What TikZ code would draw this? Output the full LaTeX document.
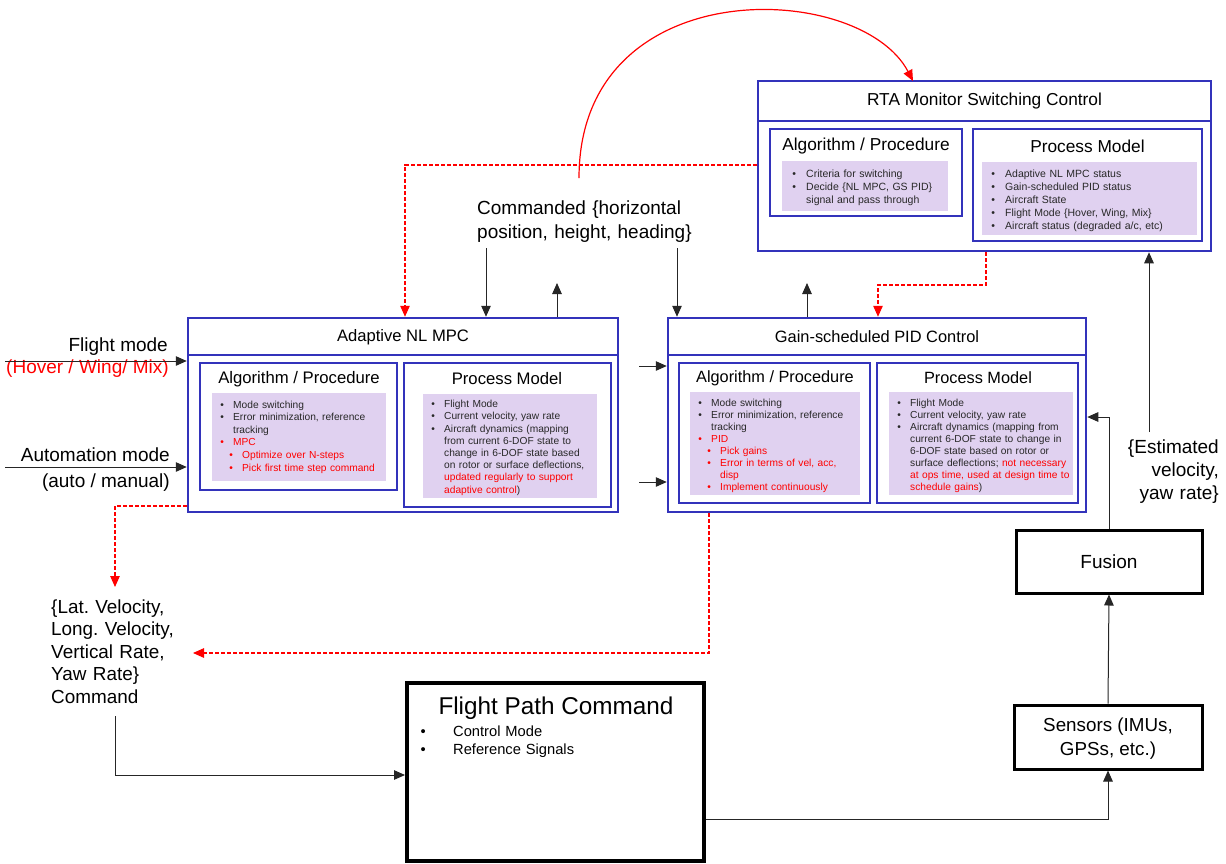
\documentclass[tikz,border=0pt]{standalone}
\usepackage{fontspec}
\setmainfont{Liberation Sans}
\usetikzlibrary{arrows.meta,fit}
\frenchspacing

\definecolor{boxblue}{RGB}{51,51,187}
\definecolor{lavfill}{RGB}{224,209,240}
\definecolor{sigred}{RGB}{255,0,0}
\definecolor{txtdark}{RGB}{40,40,40}

\newcommand{\fs}[2]{\fontsize{#1}{#2}\selectfont}
% bullet lists: continuation lines are indented to the item text
\newlength{\bind}\newlength{\sind}\newlength{\curind}
\newcommand{\nl}{\newline\hspace*{\curind}}
\newcommand{\bu}[2][txtdark]{\par\noindent\setlength{\curind}{\bind}{\color{#1}\makebox[\bind][l]{\strut\textbullet}#2}}
\newcommand{\sbu}[2][txtdark]{\par\noindent\setlength{\curind}{\dimexpr\bind+\sind\relax}{\color{#1}\hspace*{\sind}\makebox[\bind][l]{\strut\textbullet}#2}}

\tikzset{
  bluebox/.style={draw=boxblue, line width=2.5pt, inner sep=0pt},
  lavbox/.style={fill=lavfill, draw=none, inner sep=0pt},
  lavtext/.style={anchor=north west, inner sep=0pt, text width=260pt, text=txtdark},
  heading/.style={inner sep=0pt, text=black},
  blkbox/.style={draw=black, line width=3pt, inner sep=0pt},
  lbl/.style={inner sep=0pt, font=\fs{19}{23}},
  blkarrow/.style={draw=black!85, line width=1pt, -{Triangle[length=11pt,width=9.5pt]}},
  redarrow/.style={draw=sigred, line width=1.2pt, -{Triangle[length=11pt,width=9.5pt]}},
  reddash/.style={redarrow, dash pattern=on 4pt off 2pt}
}

\begin{document}
\begin{tikzpicture}[x=1pt,y=-1pt]
\fill[white] (0,0) rectangle (1226,863);
\useasboundingbox (0,0) rectangle (1226,863);

% ---------- RTA monitor ----------
\node[bluebox, fit={(758,81) (1211,251)}] (rta) {};
\node[bluebox, fit={(758,81) (1211,121)}] (rtaBand) {};
\node[heading, font=\fs{17.3}{20}] (rtaT) at (984.5,101) {RTA Monitor Switching Control};
\node[bluebox, fit={(770,129) (962,216)}] (rtaAlg) {};
\node[lavbox, fit={(782,161) (948,211)}] (rtaAlgL) {};
\node[heading, font=\fs{17.3}{20}] (rtaAlgH) at (866,146) {Algorithm / Procedure};
\node[lavtext, font=\fs{10.5}{13}] (rtaAlgX) at (792.2,164) {\raggedright\setlength{\bind}{13.8pt}%
\bu{Criteria for switching}%
\bu{Decide \{NL MPC, GS PID\}\nl signal and pass through}};
\node[bluebox, fit={(973,129) (1202,241)}] (rtaPM) {};
\node[lavbox, fit={(982,162) (1197,235)}] (rtaPML) {};
\node[heading, font=\fs{17.3}{20}] (rtaPMH) at (1087.5,146) {Process Model};
\node[lavtext, font=\fs{10.5}{13}] (rtaPMX) at (991.2,164) {\raggedright\setlength{\bind}{13.8pt}%
\bu{Adaptive NL MPC status}%
\bu{Gain-scheduled PID status}%
\bu{Aircraft State}%
\bu{Flight Mode \{Hover, Wing, Mix\}}%
\bu{Aircraft status (degraded a/c, etc)}};

% ---------- Adaptive NL MPC ----------
\node[bluebox, fit={(188,318) (618,512)}] (mpc) {};
\node[bluebox, fit={(188,318) (618,355)}] (mpcBand) {};
\node[heading, font=\fs{16.6}{20}] (mpcT) at (403,337) {Adaptive NL MPC};
\node[bluebox, fit={(200,363) (397,490)}] (mpcAlg) {};
\node[lavbox, fit={(212,393) (386,481)}] (mpcAlgL) {};
\node[heading, font=\fs{16.7}{20}] (mpcAlgH) at (299,379) {Algorithm / Procedure};
\node[lavtext, font=\fs{10.2}{12.6}] (mpcAlgX) at (220.2,395.2) {\raggedright\setlength{\bind}{12.8pt}\setlength{\sind}{9pt}%
\bu{Mode switching}%
\bu{Error minimization, reference\nl tracking}%
\bu[sigred]{MPC}%
\sbu[sigred]{Optimize over N-steps}%
\sbu[sigred]{Pick first time step command}};
\node[bluebox, fit={(404,363) (611,507)}] (mpcPM) {};
\node[lavbox, fit={(423,394) (597,498)}] (mpcPML) {};
\node[heading, font=\fs{16.7}{20}] (mpcPMH) at (507,379) {Process Model};
\node[lavtext, font=\fs{10.2}{12.2}] (mpcPMX) at (431.2,395.2) {\raggedright\setlength{\bind}{12.8pt}%
\bu{Flight Mode}%
\bu{Current velocity, yaw rate}%
\bu{Aircraft dynamics (mapping\nl from current 6-DOF state to\nl change in 6-DOF state based\nl on rotor or surface deflections,\nl \textcolor{sigred}{updated regularly to support\nl adaptive control})}};

% ---------- Gain-scheduled PID ----------
\node[bluebox, fit={(668,318) (1086,512)}] (pid) {};
\node[bluebox, fit={(668,318) (1086,355)}] (pidBand) {};
\node[heading, font=\fs{16.4}{20}] (pidT) at (877,336.5) {Gain-scheduled PID Control};
\node[bluebox, fit={(679,363) (870,503)}] (pidAlg) {};
\node[lavbox, fit={(690,392) (860,495)}] (pidAlgL) {};
\node[heading, font=\fs{16.3}{20}] (pidAlgH) at (775,378) {Algorithm / Procedure};
\node[lavtext, font=\fs{10.2}{11.9}] (pidAlgX) at (698.2,394.7) {\raggedright\setlength{\bind}{12.8pt}\setlength{\sind}{9pt}%
\bu{Mode switching}%
\bu{Error minimization, reference\nl tracking}%
\bu[sigred]{PID}%
\sbu[sigred]{Pick gains}%
\sbu[sigred]{Error in terms of vel, acc,\nl disp}%
\sbu[sigred]{Implement continuously}};
\node[bluebox, fit={(877,363) (1078,503)}] (pidPM) {};
\node[lavbox, fit={(889,392) (1073,495)}] (pidPML) {};
\node[heading, font=\fs{16.3}{20}] (pidPMH) at (978,378) {Process Model};
\node[lavtext, font=\fs{10.2}{11.9}] (pidPMX) at (897.2,394.7) {\raggedright\setlength{\bind}{12.8pt}%
\bu{Flight Mode}%
\bu{Current velocity, yaw rate}%
\bu{Aircraft dynamics (mapping from\nl current 6-DOF state to change in\nl 6-DOF state based on rotor or\nl surface deflections; \textcolor{sigred}{not necessary\nl at ops time, used at design time to\nl schedule gains})}};

% ---------- sensing chain and flight path command ----------
\node[blkbox, fit={(1016,530) (1202,593)}] (fusion) {};
\node[heading, font=\fs{19}{23}] (fusionT) at (1109,561.5) {Fusion};
\node[blkbox, fit={(1014,705) (1202,769)}] (sensors) {};
\node[heading, font=\fs{18.8}{24}, align=center] (sensorsT) at (1108,739) {Sensors (IMUs,\\GPSs, etc.)};
\node[blkbox, line width=4pt, fit={(407,683) (704,861)}] (fpc) {};
\node[heading, font=\fs{24.3}{28}] (fpcT) at (556,708) {Flight Path Command};
\node[lavtext, text=black, font=\fs{14.7}{18}] (fpcX) at (420.4,717.8) {\raggedright\setlength{\bind}{32.6pt}%
\bu[black]{Control Mode}%
\bu[black]{Reference Signals}};

% ---------- free labels ----------
\node[lbl, anchor=north west, text width=260pt, align=left, font=\fs{19}{24}] (cmdtop) at (477,197) {\strut Commanded \{horizontal\\position, height, heading\}};
\node[lbl, anchor=east] (fmT) at (168,347) {Flight mode};
\node[lbl, anchor=east, text=sigred] (fmS) at (169,369) {(Hover / Wing/ Mix)};
\node[lbl, anchor=east] (amT) at (170,455) {Automation mode};
\node[lbl, anchor=east] (amS) at (170,483) {(auto / manual)};
\node[lbl, anchor=north west, text width=200pt, align=left, font=\fs{18.9}{22.6}] (cmdlbl) at (51,597) {\strut\{Lat. Velocity,\\Long. Velocity,\\Vertical Rate,\\Yaw Rate\}\\Command};
\node[lbl, anchor=north east, text width=120pt, align=right, font=\fs{19}{23}] (estlbl) at (1219,437.6) {\strut\{Estimated\\velocity,\\yaw rate\}};

% ---------- connector end points ----------
\coordinate (cmdL) at (486,248);
\coordinate (cmdR) at (677,248);
\coordinate (mpcUp) at (557,283);
\coordinate (pidUp) at (807,283);
\coordinate (fmIn) at (5,361);
\coordinate (amIn) at (5,467);
\coordinate (midA) at (639,366);
\coordinate (midB) at (639,482);
\coordinate (rdA) at (405,165);
\coordinate (arcS) at (579,178);
\coordinate (arcE) at (913,81);
\coordinate (rdB) at (986,285);
\coordinate (rdC) at (878,285);
\coordinate (rdD) at (115,506);
\coordinate (rdDe) at (115,587);
\coordinate (rdE) at (709,653);
\coordinate (rdEe) at (193,653);
\coordinate (cmdOut) at (115,716);
\coordinate (cmdCorner) at (115,775);
\coordinate (fpcOut) at (704,819);
\coordinate (fusCorner) at (1109,417);
\coordinate (estTop) at (1149,432);

% ---------- black connectors ----------
\draw[blkarrow] (cmdL) -- (cmdL |- mpc.north);
\draw[blkarrow] (cmdR) -- (cmdR |- pid.north);
\draw[blkarrow] (mpcUp |- mpc.north) -- (mpcUp);
\draw[blkarrow] (pidUp |- pid.north) -- (pidUp);
\draw[blkarrow] (fmIn) -- (fmIn -| mpc.west);
\draw[blkarrow] (amIn) -- (amIn -| mpc.west);
\draw[blkarrow] (midA) -- (midA -| pid.west);
\draw[blkarrow] (midB) -- (midB -| pid.west);
\draw[blkarrow] (cmdOut) -- (cmdCorner) -- (cmdCorner -| fpc.west);
\draw[blkarrow] (fpcOut -| fpc.east) -| (sensors.south);
\draw[blkarrow] (sensors.north) -- (fusion.south);
\draw[blkarrow] (fusion.north) -- (fusCorner) -- (fusCorner -| pid.east);
\draw[blkarrow] (estTop) -- (estTop |- rta.south);

% ---------- red switching signals ----------
\draw[reddash] (rdA -| rta.west) -| (rdA |- mpc.north);
\draw[redarrow] (arcS) .. controls (579,-30) and (860,-20) .. (arcE);
\draw[reddash] (rdB |- rta.south) -- (rdB) -- (rdC) -- (rdC |- pid.north);
\draw[reddash] (rdD -| mpc.west) -- (rdD) -- (rdDe);
\draw[reddash] (rdE |- pid.south) -- (rdE) -- (rdEe);
\end{tikzpicture}
\end{document}
